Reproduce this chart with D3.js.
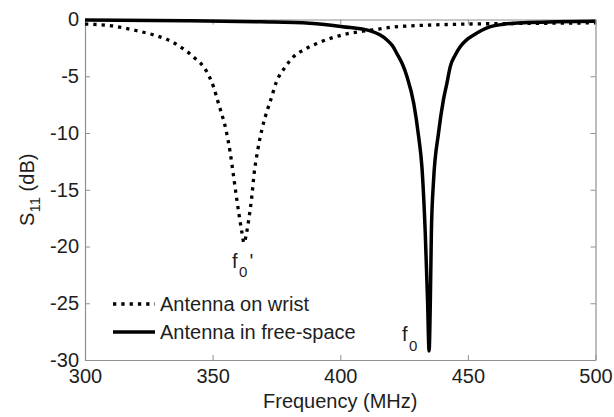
<!DOCTYPE html>
<html>
<head>
<meta charset="utf-8">
<script src="https://cdn.jsdelivr.net/npm/d3@7"></script>
<style>
  html, body { margin: 0; padding: 0; background: #fff; }
  svg { display: block; }
  text { font-family: "Liberation Sans", Arial, sans-serif; fill: #1e1e1e; }
</style>
</head>
<body>
<svg id="chart" width="614" height="417"></svg>
<script>
// Return loss of the antenna worn on the wrist
const wristFreq = [300, 311, 319, 326, 332, 337.3, 342.5, 347.7, 350.3, 352.3,
  355.3, 356.8, 358.2, 359.5, 360.5, 361.5, 362.3, 363.3, 364.3, 365.3,
  366.3, 367.6, 369.4, 371.4, 372.6, 375, 378.4, 381.6, 385.5, 391,
  397, 404, 411, 421, 434, 450, 470, 500];
const wristS11 = [-0.4, -0.57, -0.93, -1.3, -1.75, -2.4, -3.3, -4.6, -5.9, -7.4,
  -9.8, -11.6, -13.8, -15.9, -17.4, -18.8, -19.7, -18.8, -17.4, -15.7,
  -13.5, -11.6, -9.6, -8.0, -7.2, -5.5, -4.2, -3.3, -2.7, -2.1,
  -1.6, -1.2, -0.97, -0.66, -0.5, -0.4, -0.35, -0.3];

// Return loss of the antenna in free space
const freeFreq = [300, 340, 369, 388, 401, 411.8, 415.5, 418.3, 420.4, 422.2, 424.3, 426.1, 428.8,
  430.7, 432, 433.3, 434.2, 434.8, 435.3, 435.7, 436.5, 438.5, 440.4,
  441.8, 443.1, 445, 447, 449.5, 452.3, 455.5, 458.8, 464, 471.8, 485, 500];
const freeS11 = [-0.05, -0.1, -0.2, -0.33, -0.63, -1.0, -1.35, -1.8, -2.3, -3.0, -3.9, -5.0, -7.4,
  -10.3, -13.0, -18.8, -24.7, -29.2, -24.7, -18.8, -14.4, -10.0, -7.1,
  -5.6, -4.15, -3.15, -2.4, -1.8, -1.37, -0.95, -0.63, -0.42, -0.28, -0.2, -0.15];

const xTicks = [300, 350, 400, 450, 500];
const yTicks = [0, -5, -10, -15, -20, -25, -30];
const seriesNames = ["Antenna on wrist", "Antenna in free-space"];

const svg = d3.select("#chart");
const plotL = 85, plotR = 595.5, plotT = 19.5, plotB = 360;
const FONT = 20;

const x = d3.scaleLinear().domain([300, 500]).range([plotL, plotR]);
const y = d3.scaleLinear().domain([-30, 0]).range([plotB, plotT]);

const axisColor = "#909090";
const fmt = d => String(d);

// frame and inward ticks
function styleAxis(g) {
  g.attr("font-family", null).attr("font-size", null);
  g.select(".domain").attr("stroke", axisColor).attr("stroke-width", 1.2);
  g.selectAll(".tick line").attr("stroke", axisColor).attr("stroke-width", 1);
  g.selectAll(".tick text").attr("font-size", FONT).attr("fill", "#1e1e1e");
}

svg.append("g").attr("transform", `translate(0,${plotB})`)
  .call(d3.axisBottom(x).tickValues(xTicks).tickFormat(fmt).tickSizeInner(-5).tickSizeOuter(0).tickPadding(9))
  .call(styleAxis);
svg.append("g").attr("transform", `translate(0,${plotT})`)
  .call(d3.axisTop(x).tickValues(xTicks).tickFormat("").tickSizeInner(-5).tickSizeOuter(0))
  .call(styleAxis);
svg.append("g").attr("transform", `translate(${plotL},0)`)
  .call(d3.axisLeft(y).tickValues(yTicks).tickFormat(fmt).tickSizeInner(-5).tickSizeOuter(0).tickPadding(6))
  .call(styleAxis);
svg.append("g").attr("transform", `translate(${plotR},0)`)
  .call(d3.axisRight(y).tickValues(yTicks).tickFormat("").tickSizeInner(-5).tickSizeOuter(0))
  .call(styleAxis);

// curves
svg.append("clipPath").attr("id", "plotClip")
  .append("rect").attr("x", plotL).attr("y", plotT - 3).attr("width", plotR - plotL).attr("height", plotB - plotT + 3);

const line = d3.line().x(d => x(d[0])).y(d => y(d[1])).curve(d3.curveMonotoneX);
const wristData = wristFreq.map((f, i) => [f, wristS11[i]]);
const freeData = freeFreq.map((f, i) => [f, freeS11[i]]);

const curves = svg.append("g").attr("clip-path", "url(#plotClip)");
curves.append("path").datum(wristData).attr("d", line)
  .attr("fill", "none").attr("stroke", "#000").attr("stroke-width", 3.3)
  .attr("stroke-dasharray", "3.3,5");
curves.append("path").datum(freeData).attr("d", line)
  .attr("fill", "none").attr("stroke", "#000").attr("stroke-width", 3.5)
  .attr("stroke-linejoin", "round");

// legend
const legend = svg.append("g");
const legendRows = [
  { name: seriesNames[0], y: 304, dash: "3.3,5" },
  { name: seriesNames[1], y: 332, dash: null }
];
legendRows.forEach(r => {
  legend.append("line").attr("x1", 113).attr("x2", 155).attr("y1", r.y).attr("y2", r.y)
    .attr("stroke", "#000").attr("stroke-width", 3.3)
    .attr("stroke-dasharray", r.dash);
  legend.append("text").attr("x", 160).attr("y", r.y + 7).attr("font-size", FONT).text(r.name);
});

// resonance labels
const lbl1 = svg.append("text").attr("x", 232).attr("y", 268).attr("font-size", FONT);
lbl1.append("tspan").text("f");
lbl1.append("tspan").attr("font-size", 15).attr("dx", 1.5).attr("dy", 9).text("0");
lbl1.append("tspan").attr("dx", 2).attr("dy", -9).text("'");

const lbl2 = svg.append("text").attr("x", 402).attr("y", 341).attr("font-size", FONT);
lbl2.append("tspan").text("f");
lbl2.append("tspan").attr("font-size", 15).attr("dx", 1.5).attr("dy", 10).text("0");

// axis titles
svg.append("text").attr("x", (plotL + plotR) / 2).attr("y", 408)
  .attr("text-anchor", "middle").attr("font-size", FONT).text("Frequency (MHz)");

const yl = svg.append("text").attr("transform", `translate(34,${(plotT + plotB) / 2}) rotate(-90)`)
  .attr("text-anchor", "middle").attr("font-size", FONT);
yl.append("tspan").text("S");
yl.append("tspan").attr("font-size", 15).attr("dy", 6).text("11");
yl.append("tspan").attr("dy", -6).text(" (dB)");
</script>
</body>
</html>
